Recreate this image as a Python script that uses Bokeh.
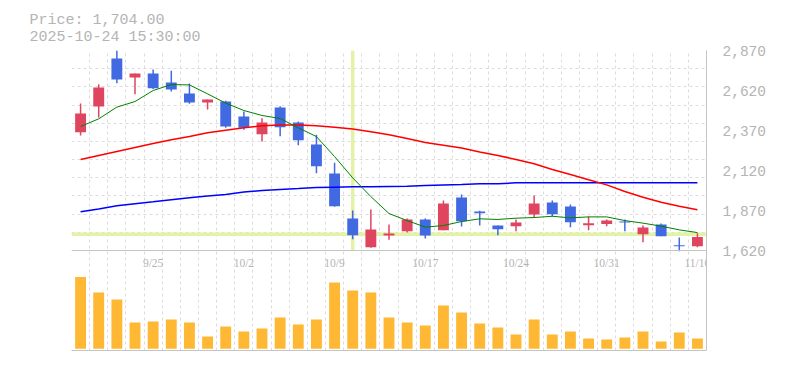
from bokeh.plotting import figure
from bokeh.models import (Range1d, FixedTicker, NumeralTickFormatter, Span,
                          ColumnDataSource, LabelSet)
from bokeh.embed import file_html
from bokeh.resources import INLINE

# ---------------- data ----------------
opens  = [2359, 2520, 2820, 2701, 2726, 2670, 2601, 2545, 2551, 2457, 2347, 2514, 2420, 2282, 2101,
          1820, 1641, 1714, 1741, 1814, 1747, 1951, 1864, 1776, 1772, 1845, 1920, 1895, 1778, 1785,
          1801, 1722, 1782, 1653, 1647]
highs  = [2539, 2659, 2870, 2726, 2751, 2743, 2664, 2564, 2556, 2489, 2447, 2522, 2426, 2343, 2168,
          1870, 1876, 1782, 1820, 1820, 1932, 1970, 1868, 1776, 1814, 1964, 1932, 1907, 1832, 1814,
          1814, 1776, 1789, 1701, 1728]
lows   = [2339, 2451, 2666, 2597, 2630, 2614, 2537, 2501, 2387, 2374, 2301, 2334, 2278, 2103, 1893,
          1691, 1637, 1687, 1732, 1695, 1747, 1770, 1776, 1716, 1741, 1826, 1832, 1766, 1747, 1772,
          1741, 1672, 1709, 1616, 1641]
closes = [2476, 2639, 2689, 2726, 2634, 2626, 2545, 2564, 2395, 2387, 2420, 2391, 2309, 2147, 1897,
          1716, 1751, 1726, 1814, 1714, 1914, 1803, 1853, 1753, 1795, 1914, 1847, 1797, 1791, 1807,
          1795, 1764, 1709, 1647, 1704]
volumes = [717, 563, 493, 263, 273, 293, 263, 123, 223, 173, 203, 313, 243, 293, 663,
           583, 563, 313, 263, 233, 433, 363, 253, 213, 143, 293, 143, 173, 103, 93,
           113, 173, 73, 163, 103]
ma_short = [2395, 2443, 2516, 2551, 2620, 2657, 2655, 2599, 2541, 2495, 2464, 2445, 2387, 2332, 2207,
            2074, 1957, 1851, 1807, 1766, 1776, 1801, 1818, 1814, 1822, 1826, 1834, 1824, 1830, 1830,
            1807, 1791, 1772, 1749, 1732]
ma_mid = [2189, 2214, 2239, 2264, 2289, 2312, 2332, 2356, 2372, 2387, 2399, 2405, 2405, 2399, 2391,
          2380, 2362, 2343, 2320, 2295, 2278, 2260, 2235, 2214, 2189, 2162, 2126, 2095, 2062, 2030,
          1989, 1953, 1922, 1897, 1874]
ma_long = [1862, 1880, 1899, 1912, 1924, 1937, 1949, 1960, 1970, 1985, 1995, 2001, 2007, 2014, 2016,
           2018, 2018, 2020, 2022, 2026, 2030, 2032, 2037, 2037, 2043, 2043, 2043, 2043, 2043, 2043,
           2043, 2043, 2043, 2043, 2043]
date_label_idx = [4, 9, 14, 19, 24, 29, 34]
date_labels = ["9/25", "10/2", "10/9", "10/17", "10/24", "10/31", "11/10"]
price_ticks = [1620, 1870, 2120, 2370, 2620, 2870]
cursor_idx = 15
cursor_price = 1722
header_price = "Price: 1,704.00"
header_time = "2025-10-24 15:30:00"

# ---------------- layout constants ----------------
N = len(closes)
P_LO, P_HI = price_ticks[0], price_ticks[-1]
span = P_HI - P_LO
RED = "#e0455f"
BLUE = "#4169e1"
GRID = "#dcdcdc"
AXIS = "#c4c4c4"
TXT = "#b4b4b4"
MONO = "Liberation Mono"

p = figure(width=769, height=362, output_backend="svg", toolbar_location=None,
           x_range=Range1d(-0.5, N - 0.5),
           y_range=Range1d(P_LO - span * 0.5, P_HI),
           y_axis_location="right",
           min_border_left=71, min_border_right=59, min_border_bottom=12, min_border_top=50)
p.extra_y_ranges = {"vol": Range1d(-17, 2983)}
p.outline_line_color = None
p.background_fill_color = "white"
p.border_fill_color = "white"

# two-line header
p.title.text = header_price + "\n" + header_time
p.title.text_font = MONO
p.title.text_font_size = "15px"
p.title.text_line_height = 1.0
p.title.text_font_style = "normal"
p.title.text_color = TXT
p.title.offset = -42
p.title.standoff = 9

# axes
ya = p.yaxis[0]
ya.ticker = FixedTicker(ticks=price_ticks)
ya.formatter = NumeralTickFormatter(format="0,0")
ya.major_label_text_font = MONO
ya.major_label_text_font_size = "14.5px"
ya.major_label_text_color = TXT
ya.major_tick_line_color = None
ya.minor_tick_line_color = None
ya.major_label_standoff = 10
ya.axis_line_color = AXIS

xa = p.xaxis[0]
xa.ticker = FixedTicker(ticks=[])
xa.major_tick_line_color = None
xa.minor_tick_line_color = None
xa.axis_line_color = AXIS

# grids
p.xgrid.ticker = FixedTicker(ticks=[i - 0.5 for i in range(N + 1)])
p.xgrid.grid_line_color = GRID
p.xgrid.grid_line_dash = "3 3"
p.ygrid.ticker = FixedTicker(ticks=[P_HI - k * span / 11 for k in range(11)])
p.ygrid.grid_line_color = GRID
p.ygrid.grid_line_dash = "3 3"

# price panel bottom line
p.add_layout(Span(location=P_LO, dimension="width", line_color=AXIS, line_width=1))

# crosshair
p.add_layout(Span(location=cursor_price, dimension="width", line_color="#e3f3a6",
                  line_width=3.5, level="underlay"))
p.segment(x0=[cursor_idx], y0=[P_LO], x1=[cursor_idx], y1=[P_HI], line_color="#e3f3a6",
          line_width=3.5)

# volume bars
xs = list(range(N))
p.vbar(x=xs, top=volumes, bottom=0, width=0.6, fill_color="#ffb833", line_color=None,
       y_range_name="vol")

# candles
cols = [RED if c >= o else BLUE for o, c in zip(opens, closes)]
tops = [max(o, c) for o, c in zip(opens, closes)]
bots = [min(o, c) for o, c in zip(opens, closes)]
bots = [b if t - b >= 6 else t - 6 for t, b in zip(tops, bots)]
src = ColumnDataSource(dict(x=xs, h=highs, l=lows, t=tops, b=bots, c=cols))
p.segment(x0="x", y0="h", x1="x", y1="l", line_color="c", line_width=1.5, source=src)
p.vbar(x="x", top="t", bottom="b", width=0.6, fill_color="c", line_color=None, source=src)

# moving averages
p.line(xs, ma_long, line_color="#0000ff", line_width=1.5)
p.line(xs, ma_mid, line_color="#ff0000", line_width=1.5)
p.line(xs, ma_short, line_color="#008000", line_width=1)

# date labels
lsrc = ColumnDataSource(dict(x=date_label_idx, y=[P_LO - span * 0.06] * len(date_labels),
                             t=date_labels))
p.add_layout(LabelSet(x="x", y="y", text="t", source=lsrc, text_align="center",
                      text_baseline="middle", text_font="Liberation Sans",
                      text_font_size="11.5px", text_color=TXT))

open("out.html", "w").write(file_html(p, INLINE))
